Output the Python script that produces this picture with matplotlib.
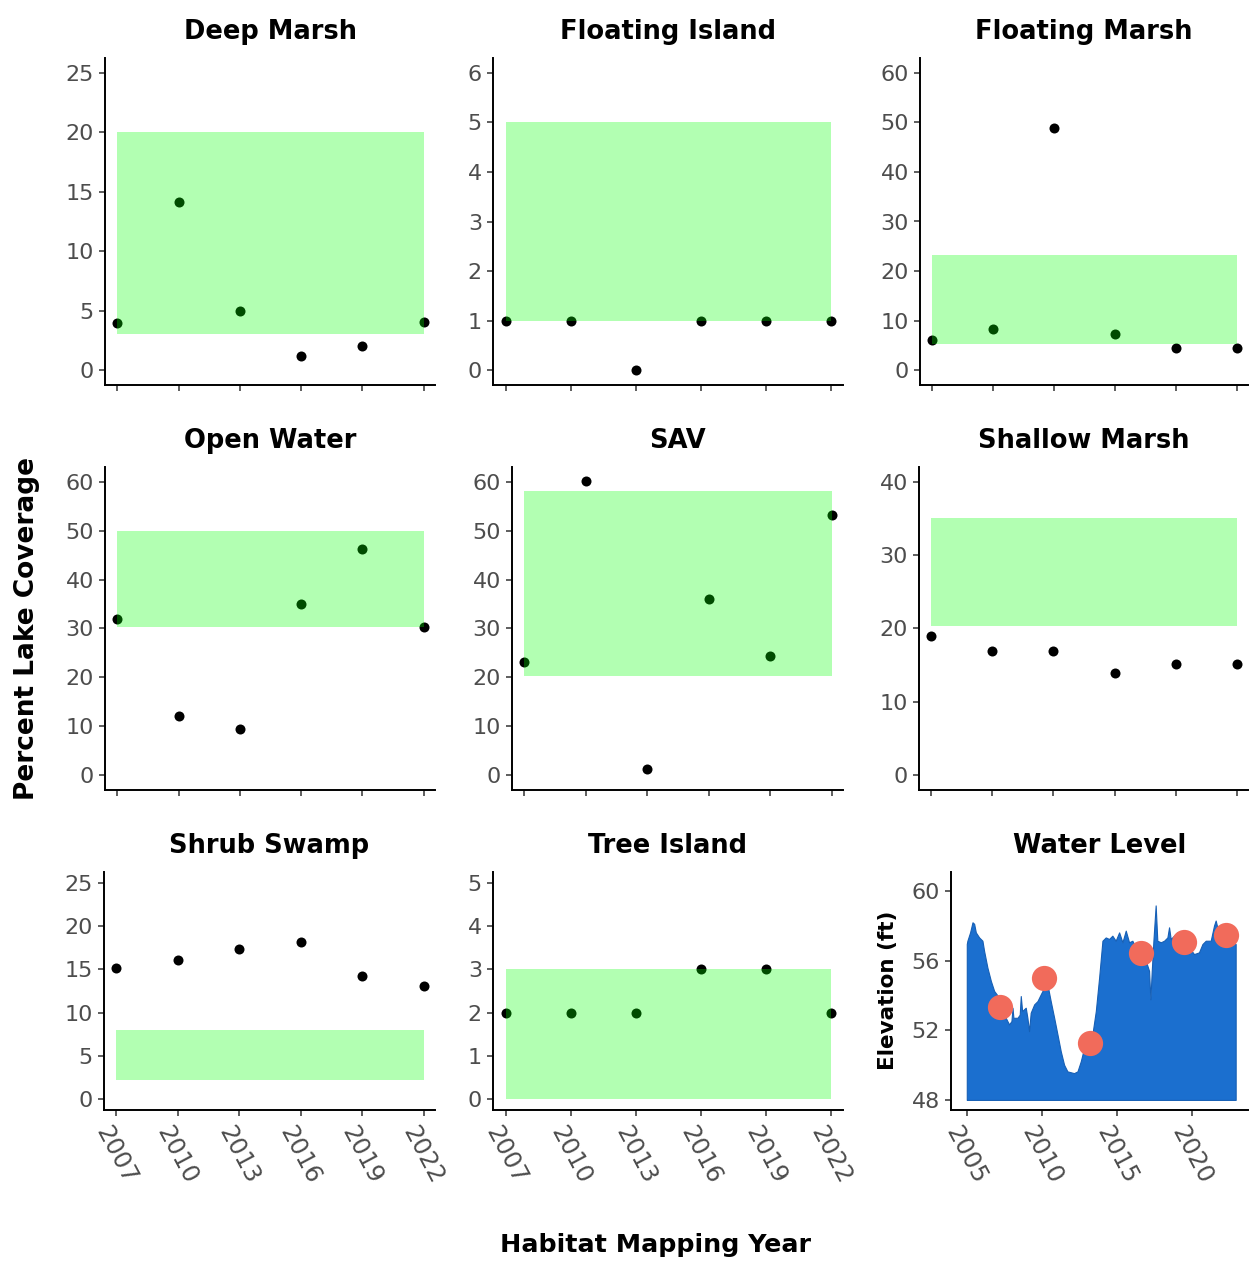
import matplotlib.pyplot as plt
from matplotlib.transforms import ScaledTranslation

# habitat mapping years and percent lake coverage per habitat
years = [2007, 2010, 2013, 2016, 2019, 2022]

habitats = ['Deep Marsh', 'Floating Island', 'Floating Marsh', 'Open Water', 'SAV',
            'Shallow Marsh', 'Shrub Swamp', 'Tree Island']

deep_marsh = [4.0, 14.1, 4.95, 1.15, 2.05, 4.05]
floating_island = [1, 1, 0, 1, 1, 1]
floating_marsh = [6.1, 8.3, 48.9, 7.3, 4.5, 4.5]
open_water = [31.9, 12.2, 9.4, 35.1, 46.3, 30.3]
sav = [23.2, 60.2, 1.2, 36.0, 24.4, 53.2]
shallow_marsh = [19.0, 16.9, 16.9, 14.0, 15.2, 15.2]
shrub_swamp = [15.2, 16.1, 17.3, 18.2, 14.2, 13.1]
tree_island = [2, 2, 2, 3, 3, 2]

coverage = [deep_marsh, floating_island, floating_marsh, open_water, sav,
            shallow_marsh, shrub_swamp, tree_island]

# target range (green band) per habitat
target_low = [3, 1, 5.3, 30.3, 20.2, 20.3, 2.2, 0]
target_high = [20, 5, 23.3, 50, 58, 35.1, 8, 3]

# y axis ticks per habitat
y_max = [25, 6, 60, 60, 60, 40, 25, 5]
y_step = [5, 1, 10, 10, 10, 10, 5, 1]

# lake water level (ft)
wl_year = [2005.00, 2005.04, 2005.22, 2005.38, 2005.49, 2005.60, 2005.82, 2006.04, 2006.15,
           2006.37, 2006.60, 2006.82, 2007.15, 2007.37, 2007.59, 2007.81, 2007.97, 2008.04,
           2008.10, 2008.37, 2008.52, 2008.59, 2008.68, 2008.92, 2009.03, 2009.14, 2009.25,
           2009.48, 2009.70, 2009.92, 2010.14, 2010.36, 2010.58, 2010.81, 2011.03, 2011.25,
           2011.47, 2011.69, 2012.13, 2012.36, 2012.58, 2012.80, 2013.02, 2013.35, 2013.58,
           2013.80, 2014.02, 2014.24, 2014.46, 2014.68, 2014.90, 2015.13, 2015.35, 2015.57,
           2015.79, 2016.01, 2016.23, 2016.57, 2016.90, 2017.12, 2017.21, 2017.30, 2017.41,
           2017.56, 2017.67, 2017.90, 2018.12, 2018.34, 2018.45, 2018.56, 2018.78, 2019.00,
           2019.23, 2019.45, 2019.78, 2020.11, 2020.44, 2020.67, 2020.89, 2021.22, 2021.44,
           2021.55, 2021.66, 2021.88, 2022.11, 2022.33, 2022.55, 2022.88]
wl_elev = [56.96, 57.15, 57.63, 58.21, 58.12, 57.63, 57.34, 57.15, 56.57,
           55.61, 54.84, 54.26, 53.88, 53.30, 52.72, 52.34, 52.53, 53.30,
           52.72, 52.72, 52.90, 53.97, 53.11, 53.30, 52.72, 51.95, 53.01,
           53.49, 53.68, 54.07, 54.45, 54.65, 53.68, 52.72, 51.76, 50.79,
           50.02, 49.64, 49.54, 49.64, 50.22, 50.99, 51.37, 51.76, 53.11,
           55.03, 57.15, 57.34, 57.25, 57.44, 57.15, 57.63, 57.06, 57.73,
           57.06, 57.15, 56.77, 56.38, 56.00, 55.42, 53.78, 55.42, 57.15,
           59.18, 57.15, 57.06, 57.15, 57.34, 57.92, 57.25, 57.44, 57.63,
           57.34, 57.15, 56.77, 56.38, 56.48, 56.96, 57.15, 57.15, 58.02,
           58.31, 57.92, 57.44, 57.63, 57.34, 57.15, 56.96]
map_year = [2007.22, 2010.14, 2013.18, 2016.57, 2019.45, 2022.22]
map_elev = [53.36, 55.03, 51.28, 56.42, 57.06, 57.50]
wl_ticks = [48, 52, 56, 60]
wl_xticks = [2005, 2010, 2015, 2020]

plt.rcParams['font.family'] = ['DejaVu Sans']

W, H = 1260, 1262
fig = plt.figure(figsize=(W / 100, H / 100), dpi=100)

# panel boxes in pixels
rows = [(58, 385), (467, 790), (872, 1110)]
lefts = [[105, 493, 920], [105, 512, 919], [104, 493, 951]]
rights = [435, 843, 1248]


def make_ax(r, c):
    top, bot = rows[r]
    l, rt = lefts[r][c], rights[c]
    return fig.add_axes([l / W, 1 - bot / H, (rt - l) / W, (bot - top) / H])


def style(ax, title, bottom_row):
    for s in ['top', 'right']:
        ax.spines[s].set_visible(False)
    for s in ['left', 'bottom']:
        ax.spines[s].set_linewidth(1.4)
        ax.spines[s].set_color('black')
    ax.tick_params(length=4.5, width=1.1, color='#333333', labelsize=16,
                   labelcolor='#4d4d4d', pad=3.5)
    ax.set_title(title, fontsize=18.5, fontweight='bold', pad=14)
    if bottom_row:
        off = ScaledTranslation(-15 / 100, -7 / 100, fig.dpi_scale_trans)
        for lab in ax.get_xticklabels():
            lab.set_fontsize(17.5)
            lab.set_rotation(-62)
            lab.set_rotation_mode('anchor')
            lab.set_horizontalalignment('left')
            lab.set_verticalalignment('center')
            lab.set_transform(lab.get_transform() + off)
    else:
        ax.tick_params(axis='x', labelbottom=False)


for i, name in enumerate(habitats):
    r, c = divmod(i, 3)
    ax = make_ax(r, c)
    ax.scatter(years, coverage[i], s=52, color='black', zorder=2, linewidths=0)
    # green target band drawn over the points, so points inside look dark green
    ax.fill_between([years[0], years[-1]], target_low[i], target_high[i],
                    color='#00ff00', alpha=0.3, linewidth=0, zorder=3)
    pad_y = y_max[i] * 0.05
    ax.set_ylim(-pad_y, y_max[i] + pad_y)
    ax.set_yticks(range(0, y_max[i] + 1, y_step[i]))
    ax.set_xlim(2006.4, 2022.55)
    ax.set_xticks(years)
    ax.set_xticklabels([str(y) for y in years])
    style(ax, name, r == 2)

# water level panel
ax = make_ax(2, 2)
ax.fill_between(wl_year, 48, wl_elev, color='#1b6fcf', edgecolor='#165fb5',
                linewidth=0.8, zorder=2)
ax.scatter(map_year, map_elev, s=330, color='#f16b5b', linewidths=0, zorder=3)
ax.set_ylim(47.42, 61.1)
ax.set_yticks(wl_ticks)
ax.set_xlim(2003.95, 2023.7)
ax.set_xticks(wl_xticks)
ax.set_xticklabels([str(y) for y in wl_xticks])
style(ax, 'Water Level', True)

fig.text(888 / W, 1 - 990 / H, 'Elevation (ft)', rotation=90, ha='center', va='center',
         fontsize=15.5, fontweight='bold')
fig.text(27 / W, 1 - 628 / H, 'Percent Lake Coverage', rotation=90, ha='center',
         va='center', fontsize=19, fontweight='bold')
fig.text(655 / W, 1 - 1245 / H, 'Habitat Mapping Year', ha='center', va='center',
         fontsize=18.3, fontweight='bold')

fig.savefig('out.png', dpi=100, facecolor='white')
